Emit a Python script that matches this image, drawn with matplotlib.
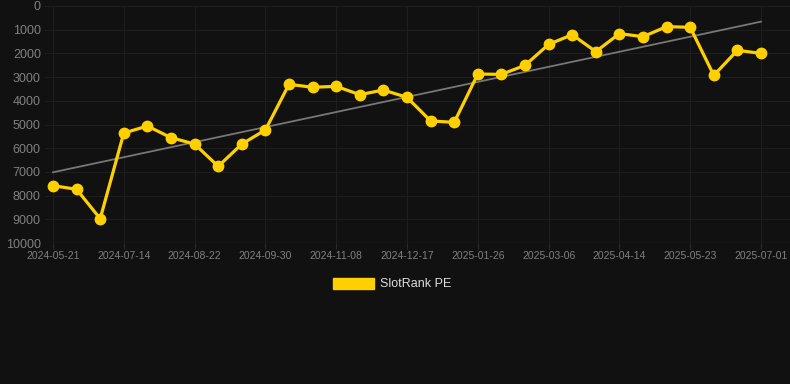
import numpy as np
import matplotlib.pyplot as plt

# data (rank, lower is better)
tick_labels = ['2024-05-21', '2024-07-14', '2024-08-22', '2024-09-30', '2024-11-08',
               '2024-12-17', '2025-01-26', '2025-03-06', '2025-04-14', '2025-05-23',
               '2025-07-01']
rank = [7580, 7735, 8975, 5360, 5065, 5555, 5825, 6765, 5825, 5230,
        3305, 3430, 3390, 3740, 3545, 3855, 4850, 4910, 2870, 2885,
        2505, 1620, 1210, 1925, 1165, 1295, 870, 900, 2925, 1870, 2000]
series_name = 'SlotRank PE'

bg = '#111111'
gold = '#FFD000'

plt.rcParams['font.family'] = ['Liberation Sans', 'DejaVu Sans']

fig = plt.figure(figsize=(7.9, 3.84), dpi=100, facecolor=bg)
ax = fig.add_axes([45/790, 1 - 243/384, (790 - 45)/790, (243 - 6)/384], facecolor=bg)

x = np.arange(len(rank))
ax.plot(x, rank, color=gold, lw=2.3, marker='o', ms=7.5, zorder=3, label=series_name)

# linear trend
k, b = np.polyfit(x, rank, 1)
ax.plot(x, k * x + b, color='#777777', lw=1.3, zorder=2)

step = (761 - 53) / (len(rank) - 1)
ax.set_xlim(-8/step, len(rank) - 1 + 29/step)
ax.set_ylim(10000, 0)
ax.set_yticks(np.arange(0, 10001, 1000))
ax.set_xticks(x[::3])
ax.set_xticklabels(tick_labels)

ax.grid(True, color='#1e1e1e', lw=0.8)
ax.axhline(10000, color='#2a2a2a', lw=0.9, zorder=1)
for s in ax.spines.values():
    s.set_visible(False)
ax.tick_params(axis='y', colors='#808080', labelsize=9, length=0, pad=3)
ax.tick_params(axis='x', colors='#808080', labelsize=7.5, length=4, color='#2a2a2a', pad=2)

leg = fig.legend(handles=[plt.Rectangle((0, 0), 1, 1, color=gold)], labels=[series_name],
                 loc='center', bbox_to_anchor=(392/790, 1 - 284/384), frameon=False,
                 handlelength=3.3, handleheight=1.0, handletextpad=0.5, fontsize=9)
for t in leg.get_texts():
    t.set_color('#dddddd')

fig.savefig('out.png', dpi=100, facecolor=bg)
